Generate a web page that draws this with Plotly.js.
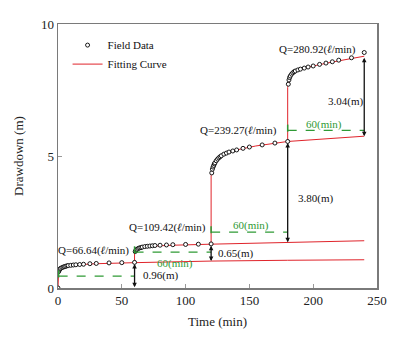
<!DOCTYPE html>
<html>
<head>
<meta charset="utf-8">
<script src="https://cdn.plot.ly/plotly-3.0.1.min.js"></script>
<style>html,body{margin:0;padding:0;background:#fff;}#chart{width:400px;height:350px;}</style>
</head>
<body>
<div id="chart"></div>
<script>
// Field data (time in min, drawdown in m)
const fieldTime = [0,0.5,1,1.5,2,3,4,5,6,7,8,10,12,14,17,20,25,30,40,50,60,
  60.5,61,61.5,62,63,64,65,66,68,70,72,74,76,80,85,90,100,110,120,
  120.5,121,121.5,122,122.5,123,124,125,126,127,128,130,132,134,137,140,145,150,160,170,180,
  180.5,181,181.5,182,183,184,185,186,188,190,193,196,200,205,210,215,220,230,240];
const fieldDrawdown = [0,0.62,0.68,0.72,0.74,0.77,0.79,0.81,0.82,0.84,0.85,0.86,0.87,0.88,0.89,0.90,0.92,0.93,0.95,0.96,0.97,
  1.38,1.42,1.45,1.47,1.50,1.52,1.53,1.55,1.57,1.58,1.59,1.60,1.61,1.62,1.63,1.64,1.65,1.66,1.67,
  4.36,4.50,4.58,4.64,4.70,4.74,4.82,4.88,4.93,4.97,5.01,5.07,5.11,5.15,5.19,5.23,5.29,5.34,5.42,5.49,5.55,
  7.72,7.88,7.97,8.03,8.10,8.15,8.19,8.22,8.26,8.29,8.33,8.37,8.41,8.47,8.52,8.57,8.63,8.72,8.92];

// Fitting curve (step test, with jumps at each rate change)
const fitTime = [0,0,0.5,1,2,4,8,15,30,60,
  60,61,62,64,68,75,90,120,
  120,121,122,124,127,132,140,155,180,
  180,181,182,184,187,192,200,215,240];
const fitDrawdown = [0,0.58,0.63,0.67,0.73,0.79,0.84,0.88,0.92,0.96,
  1.35,1.43,1.47,1.52,1.56,1.59,1.62,1.66,
  4.25,4.50,4.62,4.80,4.97,5.10,5.23,5.38,5.55,
  7.60,7.87,7.99,8.12,8.22,8.31,8.41,8.56,8.78];

// Extrapolated curves of earlier steps
const ext1Time = [60,120,180,240];
const ext1Drawdown = [0.96,1.02,1.05,1.07];
const ext2Time = [120,180,240];
const ext2Drawdown = [1.66,1.73,1.79];
const ext3Time = [180,240];
const ext3Drawdown = [5.55,5.75];

// Labels
const rateLabels = ['Q=66.64(<i>ℓ</i>/min)','Q=109.42(<i>ℓ</i>/min)','Q=239.27(<i>ℓ</i>/min)','Q=280.92(<i>ℓ</i>/min)'];
const diffLabels = ['0.96(m)','0.65(m)','3.80(m)','3.04(m)'];
const durationLabel = '60(min)';
const xTicks = [0,50,100,150,200,250];
const yTicks = [0,5,10];

const FONT = 'Liberation Serif, Times New Roman, serif';
const RED = '#e0242b';
const GREEN = '#2f9a35';

const traces = [
  {x: fitTime, y: fitDrawdown, mode:'lines', name:'Fitting Curve', line:{color:RED, width:1}},
  {x: ext1Time, y: ext1Drawdown, mode:'lines', showlegend:false, line:{color:RED, width:1}},
  {x: ext2Time, y: ext2Drawdown, mode:'lines', showlegend:false, line:{color:RED, width:1}},
  {x: ext3Time, y: ext3Drawdown, mode:'lines', showlegend:false, line:{color:RED, width:1}},
  {x: fieldTime, y: fieldDrawdown, mode:'markers', name:'Field Data',
   marker:{symbol:'circle', size:4, color:'#ffffff', line:{color:'#000', width:0.9}}}
];

// green dashed duration lines
const dashLevels = [[0.5,60,0.45],[60,120,1.36],[120,180,2.12],[180,240,5.97]];
const shapes = [];
dashLevels.forEach(d => {
  shapes.push({type:'line', xref:'x', yref:'y', x0:d[0], x1:d[1], y0:d[2], y1:d[2], line:{color:GREEN, width:1.2, dash:'dash'}});
  shapes.push({type:'line', xref:'x', yref:'y', x0:d[0], x1:d[0], y0:d[2]-0.05, y1:d[2]+0.22, line:{color:GREEN, width:1.5}});
});

const annotations = [];
// black double-headed arrows
const arrows = [[60,0.97,0.03],[120,1.66,1.02],[180,5.55,1.73],[240,8.78,5.75]];
arrows.forEach(a => {
  annotations.push({x:a[0], y:a[2], ax:a[0], ay:a[1], xref:'x', yref:'y', axref:'x', ayref:'y',
    text:'', showarrow:true, arrowhead:2, startarrowhead:2, arrowside:'end+start', arrowsize:0.7, arrowwidth:1.3, arrowcolor:'#111'});
});
const tfont = {family:FONT, size:11, color:'#111'};
const gfont = {family:FONT, size:11, color:GREEN};
// rate labels
[[27.5,1.41],[85.8,2.28],[141.3,5.97],[203.5,9.03]].forEach((p,i) => {
  annotations.push({x:p[0], y:p[1], xref:'x', yref:'y', text:rateLabels[i], showarrow:false, font:tfont, xanchor:'center', yanchor:'middle'});
});
// drawdown difference labels
[[64.7,0.47],[123.8,1.30],[186.2,3.38],[209.7,7.07]].forEach((p,i) => {
  annotations.push({x:p[0], y:p[1], xref:'x', yref:'y', text:diffLabels[i], showarrow:false, font:tfont, xanchor:'left', yanchor:'middle'});
});
// duration labels
[[29.7,-0.06],[91.8,0.91],[151.3,2.36],[208.4,6.19]].forEach(p => {
  annotations.push({x:p[0], y:p[1], xref:'x', yref:'y', text:durationLabel, showarrow:false, font:gfont, xanchor:'center', yanchor:'middle'});
});

const layout = {
  width:400, height:350,
  margin:{l:58, r:23, t:24, b:62},
  paper_bgcolor:'#fff', plot_bgcolor:'#fff',
  font:{family:FONT, size:12, color:'#222'},
  showlegend:true,
  legend:{x:0.03, y:0.975, xanchor:'left', yanchor:'top', bgcolor:'rgba(0,0,0,0)',
    font:{family:FONT, size:11, color:'#111'}, traceorder:'reversed', tracegroupgap:0, itemwidth:30},
  xaxis:{range:[0,250], tickvals:xTicks, ticktext:xTicks.map(String), ticks:'inside', ticklen:4, tickcolor:'#999',
    showline:true, mirror:true, linecolor:'#7a7a7a', linewidth:1.5, showgrid:false, zeroline:false,
    title:{text:'Time (min)', font:{family:FONT, size:13, color:'#222'}, standoff:10},
    tickfont:{family:FONT, size:13, color:'#222'}},
  yaxis:{range:[0,10], tickvals:yTicks, ticktext:yTicks.map(String), ticks:'inside', ticklen:4, tickcolor:'#999',
    showline:true, mirror:true, linecolor:'#7a7a7a', linewidth:1.5, showgrid:false, zeroline:false,
    title:{text:'Drawdown (m)', font:{family:FONT, size:13, color:'#222'}, standoff:14},
    tickfont:{family:FONT, size:13, color:'#222'}},
  shapes:shapes,
  annotations:annotations
};

Plotly.newPlot('chart', traces, layout, {displayModeBar:false, staticPlot:true});
</script>
</body>
</html>
